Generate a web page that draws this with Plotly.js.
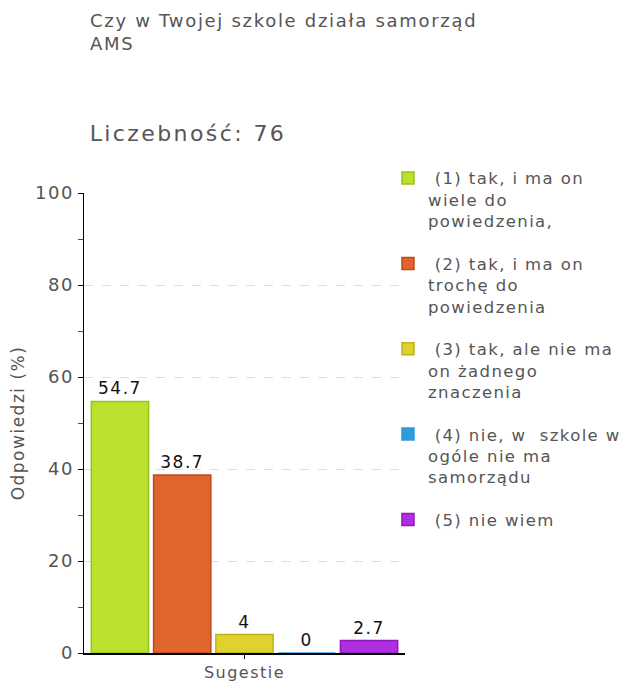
<!DOCTYPE html>
<html>
<head>
<meta charset="utf-8">
<script src="https://cdn.plot.ly/plotly-3.0.1.min.js"></script>
<style>
html,body{margin:0;padding:0;background:#fff}
#chart{width:623px;height:681px}
text{letter-spacing:1.5px}
.legendtext{letter-spacing:1.4px}
#chart .annotation[data-index="0"] text{letter-spacing:1.7px}
#chart .annotation[data-index="1"] text{letter-spacing:2.4px}
</style>
</head>
<body>
<div id="chart"></div>
<script>
const category = ['Sugestie'];
const seriesNames = [
  ' (1) tak, i ma on<br>wiele do<br>powiedzenia,',
  ' (2) tak, i ma on<br>trochę do<br>powiedzenia',
  ' (3) tak, ale nie ma<br>on żadnego<br>znaczenia',
  ' (4) nie, w  szkole w<br>ogóle nie ma<br>samorządu',
  ' (5) nie wiem'
];
const values = [54.7, 38.7, 4, 0, 2.7];
const fillColors = ['#bce02e', '#e0642e', '#e0d22e', '#2e9ae0', '#b02ee0'];
const lineColors = ['#9cc01a', '#c04a1a', '#c0b21a', '#2e9ae0', '#8e1ac0'];
const titleText = 'Czy w Twojej szkole działa samorząd<br>AMS';
const countText = 'Liczebność: 76';
const yTitle = 'Odpowiedzi (%)';

const font = 'DejaVu Sans, Verdana, sans-serif';

const traces = values.map((v, i) => ({
  type: 'bar',
  x: category,
  y: [v],
  name: seriesNames[i],
  legendgroup: 'g' + i,
  marker: {color: fillColors[i], line: {color: lineColors[i], width: 1.5}},
  text: [String(v)],
  textposition: 'outside',
  constraintext: 'none',
  textfont: {family: font, size: 17, color: '#111'},
  cliponaxis: false,
  hoverinfo: 'x+y+name'
}));

const layout = {
  width: 623,
  height: 681,
  margin: {l: 84, r: 218, t: 193, b: 28, autoexpand: false},
  paper_bgcolor: '#fff',
  plot_bgcolor: '#fff',
  font: {family: font, color: '#555', size: 17},
  barmode: 'group',
  bargap: 0.03,
  bargroupgap: 0.08,
  showlegend: true,
  legend: {
    x: 0.947, xanchor: 'left',
    y: 1.070, yanchor: 'top',
    valign: 'top',
    font: {family: font, size: 16.5, color: '#555'},
    tracegroupgap: 18,
    itemwidth: 30,
    maxheight: 620,
    bgcolor: 'rgba(0,0,0,0)'
  },
  xaxis: {
    type: 'category',
    showline: true, linecolor: '#000', linewidth: 1.5,
    ticks: 'outside', ticklen: 4, tickcolor: '#000',
    tickfont: {family: font, size: 16, color: '#555'},
    showgrid: false, zeroline: false, fixedrange: true
  },
  yaxis: {
    range: [0, 100], dtick: 20,
    showline: true, linecolor: '#000', linewidth: 1.5,
    ticks: 'outside', ticklen: 5, tickcolor: '#000',
    tickfont: {family: font, size: 18, color: '#555'},
    showgrid: true, gridcolor: '#dddddd', griddash: 'dash', gridwidth: 1,
    zeroline: false,
    minor: {dtick: 10, ticks: 'outside', ticklen: 5, tickcolor: 'red', showgrid: false},
    title: {text: yTitle, font: {family: font, size: 17, color: '#555'}, standoff: 6},
    fixedrange: true
  },
  annotations: [
    {
      text: titleText,
      xref: 'paper', yref: 'paper',
      x: 4 / 321, xanchor: 'left',
      y: 1 + (193 - 8) / 460, yanchor: 'top',
      align: 'left',
      showarrow: false,
      font: {family: font, size: 18, color: '#555'}
    },
    {
      text: countText,
      xref: 'paper', yref: 'paper',
      x: 10 / 321, xanchor: 'left',
      y: 1 + (193 - 133) / 460, yanchor: 'middle',
      showarrow: false,
      font: {family: font, size: 22, color: '#555'}
    }
  ]
};

Plotly.newPlot('chart', traces, layout, {displayModeBar: false, staticPlot: true});
</script>
</body>
</html>
